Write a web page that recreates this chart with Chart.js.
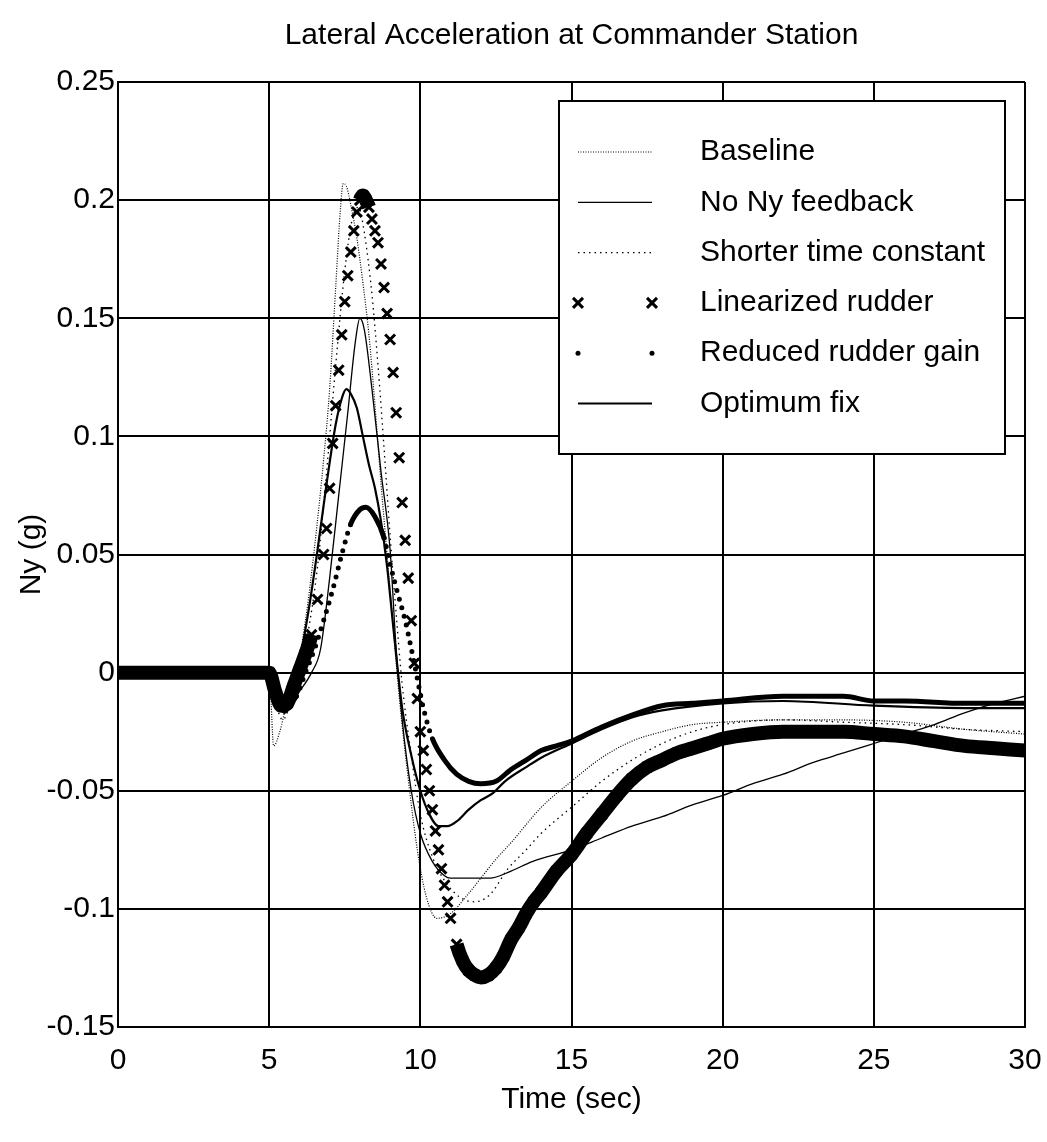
<!DOCTYPE html>
<html lang="en">
<head>
  <meta charset="UTF-8" />
  <title>Lateral Acceleration at Commander Station</title>
  <script src="https://cdn.jsdelivr.net/npm/chart.js"></script>
  <style>
    html, body { margin: 0; padding: 0; background: #fff; }
    #wrap { width: 1047px; height: 1142px; }
  </style>
</head>
<body>
  <div id="wrap"><canvas id="grafico"></canvas></div>

  <script>
    // ticks
    const xTicks = [0, 5, 10, 15, 20, 25, 30];
    const xTickLabels = ['0', '5', '10', '15', '20', '25', '30'];
    const yTicks = [-0.15, -0.1, -0.05, 0, 0.05, 0.1, 0.15, 0.2, 0.25];
    const yTickLabels = ['-0.15', '-0.1', '-0.05', '0', '0.05', '0.1', '0.15', '0.2', '0.25'];

    const chartTitle = 'Lateral Acceleration at Commander Station';
    const seriesNames = ['Baseline', 'No Ny feedback', 'Shorter time constant',
      'Linearized rudder', 'Reduced rudder gain', 'Optimum fix'];

    // Baseline
    const baseTime = [0, 5.0, 5.15, 5.35, 5.6, 5.9, 6.2, 6.5, 6.8, 7.0,
      7.2, 7.35, 7.45, 7.55, 7.7, 7.9, 8.1, 8.3, 8.5, 8.7,
      8.9, 9.1, 9.3, 9.6, 9.9, 10.2, 10.55, 11.0, 11.5, 12.0,
      12.5, 13.0, 14.0, 15.0, 16.0, 17.0, 18.0, 19.0, 20.0, 22.0,
      24.0, 26.0, 28.0, 30.0];
    const baseVal = [0, 0, -0.031, -0.025, -0.012, 0, 0.022, 0.053, 0.09, 0.12,
      0.163, 0.195, 0.207, 0.206, 0.198, 0.184, 0.165, 0.143, 0.113, 0.08,
      0.05, 0.02, -0.01, -0.045, -0.075, -0.095, -0.104, -0.102, -0.095, -0.087,
      -0.079, -0.072, -0.057, -0.046, -0.036, -0.029, -0.025, -0.022, -0.021, -0.02,
      -0.02, -0.021, -0.024, -0.026];

    // No Ny feedback
    const noNyTime = [0, 5.0, 5.3, 5.6, 6.0, 6.4, 6.7, 7.0, 7.3, 7.6,
      7.85, 8.0, 8.15, 8.4, 8.7, 9.0, 9.2, 9.4, 9.7, 10.0,
      10.4, 10.8, 11.0, 11.6, 12.3, 13.0, 13.7, 15.0, 16.0, 17.0,
      18.0, 19.0, 20.0, 21.0, 22.0, 23.0, 24.0, 25.0, 26.0, 27.0,
      28.0, 29.0, 30.0];
    const noNyVal = [0, 0, -0.01, -0.015, -0.008, 0, 0.01, 0.04, 0.075, 0.11,
      0.14, 0.15, 0.145, 0.12, 0.085, 0.052, 0.01, -0.02, -0.05, -0.068,
      -0.08, -0.086, -0.087, -0.087, -0.087, -0.084, -0.08, -0.075, -0.07, -0.065,
      -0.061, -0.056, -0.052, -0.047, -0.043, -0.038, -0.034, -0.03, -0.026, -0.022,
      -0.017, -0.013, -0.01];

    // Shorter time constant
    const shortTime = [0, 5.0, 5.2, 5.45, 5.7, 6.0, 6.3, 6.6, 6.9, 7.2,
      7.5, 7.75, 7.95, 8.15, 8.4, 8.6, 8.8, 9.0, 9.2, 9.4,
      9.7, 10.0, 10.4, 10.8, 11.3, 11.8, 12.3, 12.9, 13.5, 14.0,
      15.0, 16.0, 17.0, 18.0, 19.0, 20.0, 22.0, 24.0, 26.0, 28.0,
      30.0];
    const shortVal = [0, 0, -0.012, -0.02, -0.013, 0, 0.018, 0.045, 0.085, 0.13,
      0.17, 0.192, 0.197, 0.186, 0.16, 0.13, 0.095, 0.058, 0.025, -0.005,
      -0.035, -0.06, -0.078, -0.088, -0.095, -0.097, -0.094, -0.083, -0.075, -0.068,
      -0.057, -0.046, -0.037, -0.03, -0.025, -0.022, -0.02, -0.021, -0.022, -0.024,
      -0.025];

    // Linearized rudder (x)
    const linTime = [0, 5.0, 5.2, 5.4, 5.6, 5.8, 6.0, 6.2, 6.4, 6.6,
      6.8, 6.9, 7.0, 7.1, 7.2, 7.3, 7.4, 7.5, 7.6, 7.7,
      7.8, 7.9, 8.0, 8.1, 8.2, 8.3, 8.4, 8.5, 8.6, 8.7,
      8.8, 8.9, 9.0, 9.1, 9.2, 9.3, 9.4, 9.5, 9.6, 9.7,
      9.8, 9.9, 10.0, 10.1, 10.2, 10.3, 10.4, 10.5, 10.6, 10.7,
      10.8, 10.9, 11.0, 11.2, 11.4, 11.6, 11.8, 12.0, 12.25, 12.5,
      12.75, 13.0, 13.25, 13.5, 13.75, 14.0, 14.5, 15.0, 15.5, 16.0,
      16.5, 17.0, 17.5, 18.0, 18.5, 19.0, 19.5, 20, 21, 22,
      23, 24, 25, 26, 27, 28, 29, 30];
    const linVal = [0, 0, -0.008, -0.014, -0.013, -0.006, 0.001, 0.008, 0.016, 0.031,
      0.05, 0.061, 0.078, 0.097, 0.113, 0.128, 0.143, 0.157, 0.168, 0.178,
      0.187, 0.195, 0.2, 0.202, 0.2, 0.197, 0.192, 0.187, 0.182, 0.173,
      0.163, 0.152, 0.141, 0.127, 0.11, 0.091, 0.072, 0.056, 0.04, 0.022,
      0.004, -0.011, -0.025, -0.033, -0.041, -0.05, -0.058, -0.067, -0.075, -0.083,
      -0.09, -0.097, -0.104, -0.115, -0.122, -0.126, -0.128, -0.129, -0.128, -0.125,
      -0.12, -0.113, -0.108, -0.102, -0.097, -0.093, -0.084, -0.077, -0.068, -0.06,
      -0.052, -0.045, -0.04, -0.037, -0.034, -0.032, -0.03, -0.028, -0.026, -0.025,
      -0.025, -0.025, -0.026, -0.027, -0.029, -0.031, -0.032, -0.033];

    // Reduced rudder gain (dots)
    const redTime = [0, 5.0, 5.3, 5.6, 5.9, 6.2, 6.5, 6.8, 7.1, 7.4,
      7.7, 8.0, 8.2, 8.5, 8.8, 9.0, 9.2, 9.5, 9.8, 10.1,
      10.4, 10.8, 11.2, 11.6, 12.0, 12.5, 13.0, 13.5, 14.0, 14.5,
      15.0, 16.0, 17.0, 18.0, 19.0, 20.0, 22.0, 24.0, 25.0, 26.0,
      28.0, 30.0];
    const redVal = [0, 0, -0.008, -0.013, -0.01, 0, 0.01, 0.022, 0.035, 0.05,
      0.063, 0.069, 0.07, 0.066, 0.057, 0.046, 0.036, 0.022, 0.004, -0.015,
      -0.028, -0.037, -0.043, -0.046, -0.047, -0.046, -0.041, -0.037, -0.033, -0.031,
      -0.029, -0.023, -0.018, -0.014, -0.013, -0.012, -0.01, -0.01, -0.012, -0.012,
      -0.013, -0.013];

    // Optimum fix
    const optTime = [0, 5.0, 5.3, 5.5, 5.8, 6.0, 6.3, 6.6, 6.9, 7.2,
      7.4, 7.55, 7.7, 7.9, 8.1, 8.3, 8.5, 8.7, 8.9, 9.1,
      9.4, 9.7, 10.0, 10.3, 10.6, 10.9, 11.2, 11.6, 12.0, 12.4,
      12.8, 13.5, 14.0, 15.0, 16.0, 17.0, 18.0, 20.0, 22.0, 25.0,
      28.0, 30.0];
    const optVal = [0, 0, -0.012, -0.017, -0.01, 0.004, 0.026, 0.052, 0.08, 0.105,
      0.116, 0.12, 0.118, 0.112, 0.1, 0.088, 0.078, 0.064, 0.045, 0.02,
      -0.015, -0.035, -0.05, -0.06, -0.065, -0.065, -0.063, -0.058, -0.054, -0.051,
      -0.046, -0.04, -0.036, -0.03, -0.024, -0.019, -0.016, -0.013, -0.012, -0.014,
      -0.015, -0.015];

    const FONTE = "'Liberation Sans', Arial, sans-serif";
    Chart.defaults.font.family = FONTE;
    Chart.defaults.color = '#000';

    const pares = (ts, vs) => ts.map((t, i) => ({ x: t, y: vs[i] }));

    // inclinação do segmento (g por segundo)
    function inclinacao(ctx) {
      const dx = ctx.p1.parsed.x - ctx.p0.parsed.x;
      return dx ? Math.abs((ctx.p1.parsed.y - ctx.p0.parsed.y) / dx) : 0;
    }

    const comum = { fill: false, cubicInterpolationMode: 'monotone', borderColor: '#000', pointRadius: 0 };

    const datasets = [
      { ...comum, label: seriesNames[0], data: pares(baseTime, baseVal),
        borderWidth: 1.2, borderDash: [1, 1.5], legendKind: 'line' },
      { ...comum, label: seriesNames[1], data: pares(noNyTime, noNyVal),
        borderWidth: 1.3, legendKind: 'line' },
      { ...comum, label: seriesNames[2], data: pares(shortTime, shortVal),
        borderWidth: 1.3, borderDash: [1.5, 4], legendKind: 'line' },
      { ...comum, label: seriesNames[3], data: pares(linTime, linVal),
        borderWidth: 14,
        pointStyle: 'crossRot', pointRadius: 7, pointBorderWidth: 3,
        pointBorderColor: '#000', pointBackgroundColor: '#000',
        segment: { borderColor: ctx => inclinacao(ctx) < 0.04 ? '#000' : 'rgba(0,0,0,0)' },
        legendKind: 'cross' },
      { ...comum, label: seriesNames[4], data: pares(redTime, redVal),
        borderWidth: 5, borderCapStyle: 'round',
        segment: { borderDash: ctx => inclinacao(ctx) > 0.03 ? [0, 9] : undefined },
        legendKind: 'dot' },
      { ...comum, label: seriesNames[5], data: pares(optTime, optVal),
        borderWidth: 2.2, legendKind: 'line' }
    ];

    // titulo centrado na área do gráfico + legenda no estilo matlab
    const legendaCaixa = {
      id: 'legendaCaixa',
      afterDraw(chart) {
        const { ctx, chartArea } = chart;
        ctx.save();
        ctx.fillStyle = '#000';
        ctx.font = '30px ' + FONTE;
        ctx.textAlign = 'center';
        ctx.textBaseline = 'middle';
        ctx.fillText(chartTitle, (chartArea.left + chartArea.right) / 2, chartArea.top - 46);

        const w = 446, h = 353;
        const x0 = chartArea.right - 20 - w;
        const y0 = chartArea.top + 19;
        ctx.fillStyle = '#fff';
        ctx.fillRect(x0, y0, w, h);
        ctx.strokeStyle = '#000';
        ctx.lineWidth = 2;
        ctx.setLineDash([]);
        ctx.strokeRect(x0, y0, w, h);
        ctx.textAlign = 'left';
        chart.data.datasets.forEach((ds, i) => {
          const y = y0 + 51 + i * 50.3;
          const a = x0 + 19, b = x0 + 93;
          ctx.save();
          ctx.strokeStyle = '#000';
          ctx.fillStyle = '#000';
          if (ds.legendKind === 'line') {
            ctx.lineWidth = ds.borderWidth;
            ctx.setLineDash(ds.borderDash || []);
            ctx.beginPath();
            ctx.moveTo(a, y);
            ctx.lineTo(b, y);
            ctx.stroke();
          } else if (ds.legendKind === 'cross') {
            ctx.lineWidth = 3;
            [a, b].forEach(px => {
              ctx.beginPath();
              ctx.moveTo(px - 5, y - 5); ctx.lineTo(px + 5, y + 5);
              ctx.moveTo(px + 5, y - 5); ctx.lineTo(px - 5, y + 5);
              ctx.stroke();
            });
          } else if (ds.legendKind === 'dot') {
            [a, b].forEach(px => {
              ctx.beginPath();
              ctx.arc(px, y, 2.5, 0, Math.PI * 2);
              ctx.fill();
            });
          }
          ctx.restore();
          ctx.fillStyle = '#000';
          ctx.fillText(ds.label, x0 + 141, y);
        });
        ctx.restore();
      }
    };

    new Chart(document.getElementById('grafico'), {
      type: 'line',
      data: { datasets: datasets },
      plugins: [legendaCaixa],
      options: {
        responsive: true,
        maintainAspectRatio: false,
        animation: false,
        events: [],
        layout: { padding: { left: 0, right: 22, top: 82, bottom: 0 } },
        plugins: {
          legend: { display: false },
          tooltip: { enabled: false },
          title: { display: false }
        },
        scales: {
          x: {
            type: 'linear',
            min: 0,
            max: 30,
            afterBuildTicks: s => { s.ticks = xTicks.map(v => ({ value: v })); },
            afterFit: s => { s.height = 115; s.paddingLeft = 0; s.paddingRight = 0; },
            ticks: {
              callback: (v, i) => xTickLabels[i],
              font: { size: 30 },
              color: '#000',
              padding: 16,
              maxRotation: 0
            },
            grid: { color: '#000', lineWidth: 2, drawTicks: false },
            border: { display: true, color: '#000', width: 2 },
            title: {
              display: true,
              text: 'Time (sec)',
              color: '#000',
              font: { size: 30 },
              padding: { top: 0, bottom: 24 }
            }
          },
          y: {
            min: -0.15,
            max: 0.25,
            afterBuildTicks: s => { s.ticks = yTicks.map(v => ({ value: v })); },
            afterFit: s => { s.width = 118; s.paddingTop = 0; s.paddingBottom = 0; },
            ticks: {
              callback: (v, i) => yTickLabels[i],
              font: { size: 30 },
              color: '#000',
              padding: 3
            },
            grid: { color: '#000', lineWidth: 2, drawTicks: false },
            border: { display: true, color: '#000', width: 2 },
            title: {
              display: true,
              text: 'Ny (g)',
              color: '#000',
              font: { size: 30 },
              padding: { top: 14, bottom: 0 }
            }
          }
        }
      }
    });
  </script>
</body>
</html>
